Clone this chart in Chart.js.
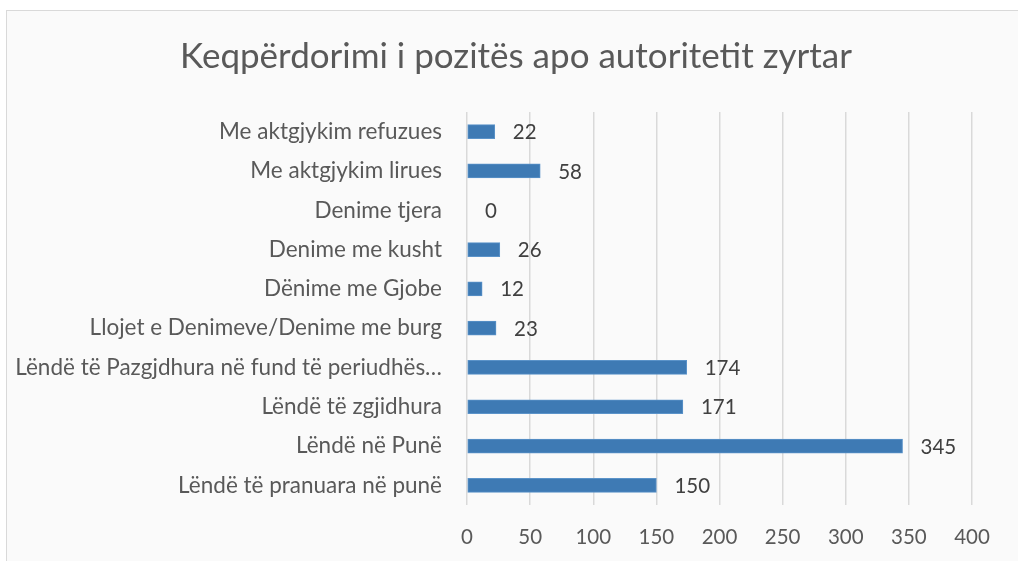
<!DOCTYPE html>
<html>
<head>
<meta charset="utf-8">
<script src="https://cdn.jsdelivr.net/npm/chart.js@4.4.1/dist/chart.umd.min.js"></script>
<style>
  html, body { margin: 0; padding: 0; background: #ffffff; }
  #frame {
    position: absolute; left: 6px; top: 10px; width: 1040px; height: 570px;
    background: #fafafa; border: 1px solid #d9d9d9;
  }
  #wrap { position: absolute; left: 0; top: 0; width: 1018px; height: 561px; }
</style>
</head>
<body>
<div id="frame"></div>
<div id="wrap"><canvas id="chart" width="1018" height="561"></canvas></div>
<script>
// categories top to bottom as in the picture
const categories = [
  'Me aktgjykim refuzues',
  'Me aktgjykim lirues',
  'Denime tjera',
  'Denime me kusht',
  'Dënime me Gjobe',
  'Llojet e Denimeve/Denime me burg',
  'Lëndë të Pazgjdhura në fund të periudhës…',
  'Lëndë të zgjidhura',
  'Lëndë në Punë',
  'Lëndë të pranuara në punë'
];
const values = [22, 58, 0, 26, 12, 23, 174, 171, 345, 150];
const xTicks = [0, 50, 100, 150, 200, 250, 300, 350, 400];

const FONT = 'Lato, "Open Sans", sans-serif';

// draw the value next to each bar
const valueLabels = {
  id: 'valueLabels',
  afterDatasetsDraw(chart) {
    const ctx = chart.ctx;
    const meta = chart.getDatasetMeta(0);
    ctx.save();
    ctx.font = '20.5px ' + FONT;
    ctx.fillStyle = '#404040';
    ctx.textAlign = 'left';
    ctx.textBaseline = 'middle';
    meta.data.forEach((bar, i) => {
      ctx.fillText(String(values[i]), bar.x + 18, bar.y + 1);
    });
    ctx.restore();
  }
};

new Chart(document.getElementById('chart'), {
  type: 'bar',
  data: {
    labels: categories,
    datasets: [{
      data: values,
      backgroundColor: '#3e7ab4',
      borderColor: '#5b93c9',
      borderWidth: 1,
      borderSkipped: false,
      barThickness: 14
    }]
  },
  plugins: [valueLabels],
  options: {
    indexAxis: 'y',
    responsive: false,
    animation: false,
    layout: { padding: { left: 14, right: 0, top: 0, bottom: 0 } },
    plugins: {
      legend: { display: false },
      tooltip: { enabled: false },
      title: {
        display: true,
        text: 'Keqpërdorimi i pozitës apo autoritetit zyrtar',
        color: '#595959',
        font: { family: FONT, size: 35, weight: 'normal' },
        padding: { top: 36, bottom: 34 }
      }
    },
    scales: {
      x: {
        min: 0,
        max: 400,
        afterBuildTicks(axis) { axis.ticks = xTicks.map(v => ({ value: v })); },
        afterFit(axis) { axis.height = 56; },
        grid: { color: '#d9d9d9', lineWidth: 1.5, drawTicks: false },
        border: { display: false },
        ticks: {
          color: '#595959',
          font: { family: FONT, size: 20.5 },
          padding: 20
        }
      },
      y: {
        afterFit(axis) { axis.width = 453; },
        grid: { display: false },
        border: { display: false },
        ticks: {
          color: '#595959',
          font: { family: FONT, size: 22.5 },
          padding: 17,
          autoSkip: false
        }
      },
      // empty right-hand axis, only leaves the blank margin right of the plot
      yRight: {
        type: 'linear',
        position: 'right',
        afterFit(axis) { axis.width = 46; },
        grid: { display: false },
        border: { display: false },
        ticks: { display: false }
      }
    }
  }
});
</script>
</body>
</html>
